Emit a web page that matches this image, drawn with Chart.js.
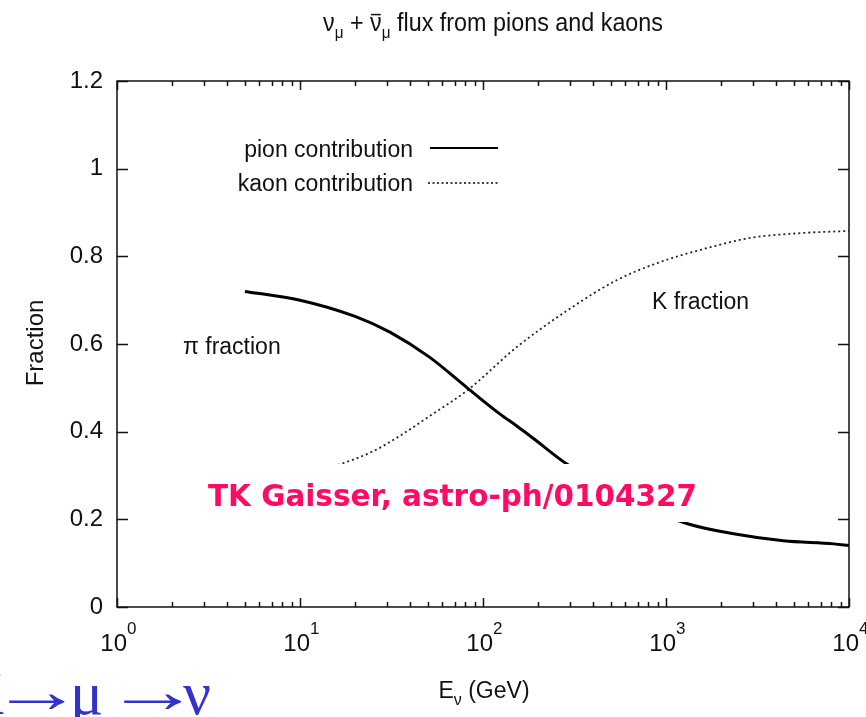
<!DOCTYPE html>
<html>
<head>
<meta charset="utf-8">
<script src="https://cdn.jsdelivr.net/npm/chart.js@4.4.1/dist/chart.umd.min.js"></script>
<style>
  html, body { margin: 0; padding: 0; background: #fff; }
  #wrap { width: 866px; height: 717px; }
</style>
</head>
<body>
<div id="wrap"><canvas id="fluxChart" width="866" height="717"></canvas></div>
<script>
// values
const pionEnergy = [5, 10, 20, 31, 51, 82, 124, 153, 188, 290, 500, 800, 1310, 2340, 4380, 8260, 10000];
const pionFraction = [0.72, 0.70, 0.663, 0.627, 0.57, 0.50, 0.44, 0.413, 0.385, 0.325, 0.27, 0.225, 0.19, 0.167, 0.151, 0.144, 0.14];

const kaonEnergy = [5, 10, 14.5, 25, 35, 53, 82, 153, 290, 540, 930, 1550, 2890, 5450, 10000];
const kaonFraction = [0.28, 0.30, 0.318, 0.355, 0.39, 0.44, 0.494, 0.593, 0.677, 0.746, 0.787, 0.815, 0.842, 0.853, 0.858];

const xMajorTicks = [1, 10, 100, 1000, 10000];
const xTickExponents = ['0', '1', '2', '3', '4'];
const yTicks = [0, 0.2, 0.4, 0.6, 0.8, 1, 1.2];

const seriesNames = ['pion contribution', 'kaon contribution'];
const curveLabels = ['\u03c0 fraction', 'K fraction'];
const creditText = 'TK Gaisser, astro-ph/0104327';

const SANS = '"Liberation Sans", Arial, sans-serif';

function toPoints(xs, ys) {
    return xs.map((x, i) => ({ x: x, y: ys[i] }));
}

// text runs: [{t, size, dy}] drawn one after another, squeezed to fit width if given
function drawRuns(ctx, runs, x, y, align, fitWidth) {
    let total = 0;
    runs.forEach(r => {
        ctx.font = r.size + 'px ' + SANS;
        r.w = ctx.measureText(r.t).width;
        total += r.w;
    });
    const k = fitWidth ? fitWidth / total : 1;
    ctx.save();
    ctx.translate(align === 'center' ? x - total * k / 2 : x, y);
    ctx.scale(k, 1);
    let cx = 0;
    ctx.textAlign = 'left';
    ctx.textBaseline = 'alphabetic';
    runs.forEach(r => {
        ctx.font = r.size + 'px ' + SANS;
        ctx.fillText(r.t, cx, r.dy || 0);
        if (r.bar) {
            ctx.fillRect(cx + 1, -r.size * 0.66, r.w - 2, 1.5);
        }
        cx += r.w;
    });
    ctx.restore();
}

function stretchText(ctx, t, x, y, width) {
    const w = ctx.measureText(t).width;
    ctx.save();
    ctx.translate(x, y);
    ctx.scale(width / w, 1);
    ctx.fillText(t, 0, 0);
    ctx.restore();
}

// stretch a glyph so its ink spans [left, left + width]
function stretchInk(ctx, t, left, y, width) {
    const m = ctx.measureText(t);
    const ink = m.actualBoundingBoxLeft + m.actualBoundingBoxRight;
    const k = width / ink;
    ctx.save();
    ctx.translate(left + m.actualBoundingBoxLeft * k, y);
    ctx.scale(k, 1);
    ctx.textAlign = 'left';
    ctx.fillText(t, 0, 0);
    ctx.restore();
}

const framePlugin = {
    id: 'frame',
    afterDatasetsDraw(chart) {
        const ctx = chart.ctx;
        const a = chart.chartArea;
        const xs = chart.scales.x;
        const ys = chart.scales.y;
        ctx.save();
        ctx.strokeStyle = '#111';
        ctx.lineWidth = 1.5;
        ctx.strokeRect(a.left, a.top, a.right - a.left, a.bottom - a.top);

        // inward ticks on x (log decades with minor ticks)
        ctx.beginPath();
        for (let d = 1; d <= 10000; d *= 10) {
            for (let m = 1; m < 10; m++) {
                const v = d * m;
                if (v > 10000) break;
                const px = Math.round(xs.getPixelForValue(v)) + 0.5;
                const len = m === 1 ? 9 : 5;
                ctx.moveTo(px, a.bottom); ctx.lineTo(px, a.bottom - len);
                ctx.moveTo(px, a.top); ctx.lineTo(px, a.top + len);
            }
        }
        yTicks.forEach(v => {
            const py = Math.round(ys.getPixelForValue(v)) + 0.5;
            ctx.moveTo(a.left, py); ctx.lineTo(a.left + 11, py);
            ctx.moveTo(a.right, py); ctx.lineTo(a.right - 11, py);
        });
        ctx.stroke();
        ctx.restore();
    },
    afterDraw(chart) {
        const ctx = chart.ctx;
        const xs = chart.scales.x;
        ctx.save();
        ctx.fillStyle = '#111';

        // title
        drawRuns(ctx, [
            { t: '\u03bd', size: 26 },
            { t: '\u03bc', size: 17, dy: 7 },
            { t: ' + ', size: 26 },
            { t: '\u03bd', size: 26, bar: true },
            { t: '\u03bc', size: 17, dy: 7 },
            { t: ' flux from pions and kaons', size: 26 }
        ], 493, 31, 'center', 340);

        // x tick labels 10^n
        xMajorTicks.forEach((v, i) => {
            const px = xs.getPixelForValue(v);
            ctx.font = '24px ' + SANS;
            ctx.textAlign = 'right';
            ctx.fillText('10', px + 10, 651);
            ctx.font = '17px ' + SANS;
            ctx.textAlign = 'left';
            ctx.fillText(xTickExponents[i], px + 10, 634);
        });

        // axis titles
        drawRuns(ctx, [
            { t: 'E', size: 23 },
            { t: '\u03bd', size: 16, dy: 7 },
            { t: ' (GeV)', size: 23 }
        ], 484, 698, 'center');

        ctx.save();
        ctx.translate(43, 343);
        ctx.rotate(-Math.PI / 2);
        ctx.font = '24px ' + SANS;
        ctx.textAlign = 'center';
        ctx.fillText('Fraction', 0, 0);
        ctx.restore();

        // legend
        ctx.font = '23px ' + SANS;
        ctx.textAlign = 'right';
        ctx.fillText(seriesNames[0], 413, 157);
        ctx.fillText(seriesNames[1], 413, 191);
        ctx.strokeStyle = '#000';
        ctx.lineWidth = 2;
        ctx.beginPath(); ctx.moveTo(430, 148); ctx.lineTo(498, 148); ctx.stroke();
        ctx.setLineDash([2, 2.5]);
        ctx.lineWidth = 1.5;
        ctx.beginPath(); ctx.moveTo(428, 183); ctx.lineTo(498, 183); ctx.stroke();
        ctx.setLineDash([]);

        // curve labels
        ctx.textAlign = 'left';
        ctx.fillText(curveLabels[0], 183, 354);
        ctx.fillText(curveLabels[1], 652, 309);

        // pasted credit box
        ctx.fillStyle = '#fff';
        ctx.fillRect(196, 464, 494, 58);
        ctx.font = 'bold 30px "DejaVu Sans", Verdana, sans-serif';
        ctx.fillStyle = '#ff0a64';
        stretchText(ctx, creditText, 208, 506, 489);

        // slide text cut at the left edge
        ctx.fillStyle = '#3333cc';
        ctx.font = '62px "Liberation Serif", "DejaVu Serif", serif';
        const kw = ctx.measureText('K').width;
        ctx.fillText('K', 4 - kw, 714);
        stretchInk(ctx, '\u2192', 8, 712, 57);
        ctx.fillText('\u03bc', 70, 714);
        stretchInk(ctx, '\u2192', 123, 712, 59);
        ctx.fillText('\u03bd', 183, 714);
        ctx.restore();
    }
};

const ctx = document.getElementById('fluxChart').getContext('2d');
const fluxChart = new Chart(ctx, {
    type: 'line',
    data: {
        datasets: [
            {
                label: seriesNames[0],
                data: toPoints(pionEnergy, pionFraction),
                borderColor: '#000',
                borderWidth: 3,
                pointRadius: 0,
                cubicInterpolationMode: 'monotone',
                fill: false
            },
            {
                label: seriesNames[1],
                data: toPoints(kaonEnergy, kaonFraction),
                borderColor: '#222',
                borderWidth: 1.8,
                borderDash: [2, 3],
                pointRadius: 0,
                cubicInterpolationMode: 'monotone',
                fill: false
            }
        ]
    },
    options: {
        responsive: false,
        animation: false,
        layout: { padding: { top: 81, right: 17, left: 0, bottom: 0 } },
        plugins: {
            legend: { display: false },
            tooltip: { enabled: false }
        },
        scales: {
            x: {
                type: 'logarithmic',
                min: 1,
                max: 10000,
                grid: { display: false, drawTicks: false },
                border: { display: false },
                ticks: { display: false },
                afterFit: s => { s.height = 110; }
            },
            y: {
                min: 0,
                max: 1.2,
                grid: { display: false, drawTicks: false },
                border: { display: false },
                afterBuildTicks: s => { s.ticks = yTicks.map(v => ({ value: v })); },
                ticks: {
                    padding: 14,
                    color: '#111',
                    font: { family: SANS, size: 24 },
                    callback: v => String(Math.round(v * 10) / 10)
                },
                afterFit: s => { s.width = 117; }
            }
        }
    },
    plugins: [framePlugin]
});
</script>
</body>
</html>
